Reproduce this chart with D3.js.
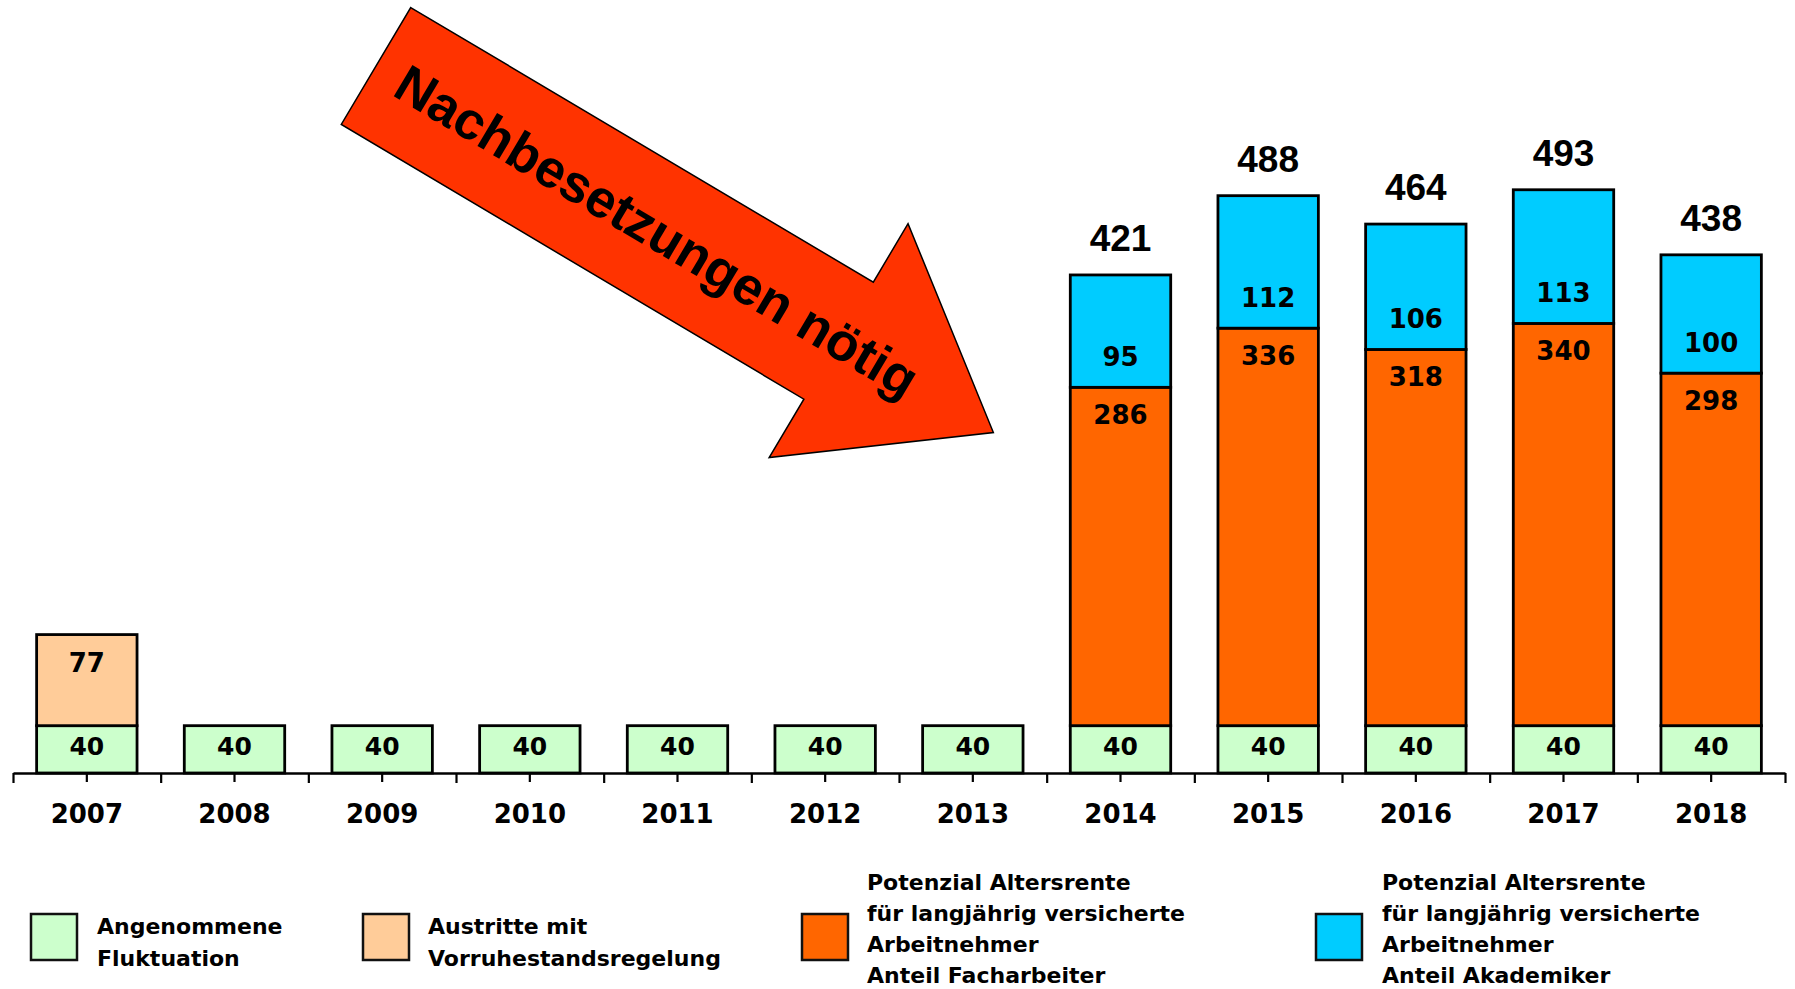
<!DOCTYPE html>
<html>
<head>
<meta charset="utf-8">
<script src="https://cdn.jsdelivr.net/npm/d3@7"></script>
<style>
  html, body { margin: 0; padding: 0; background: #fff; }
  svg { display: block; }
</style>
</head>
<body>
<div id="chart"></div>
<script>
// Nachbesetzungsbedarf 2007-2018, stacked columns
const years = ['2007','2008','2009','2010','2011','2012','2013','2014','2015','2016','2017','2018'];
const fluktuation  = [40, 40, 40, 40, 40, 40, 40, 40, 40, 40, 40, 40];
const vorruhestand = [77, 0, 0, 0, 0, 0, 0, 0, 0, 0, 0, 0];
const facharbeiter = [0, 0, 0, 0, 0, 0, 0, 286, 336, 318, 340, 298];
const akademiker   = [0, 0, 0, 0, 0, 0, 0, 95, 112, 106, 113, 100];

const seriesKeys   = ['fluktuation', 'vorruhestand', 'facharbeiter', 'akademiker'];
const seriesColors = ['#CCFFCC', '#FFCC99', '#FF6600', '#00CCFF'];
const legendLabels = [
  ['Angenommene', 'Fluktuation'],
  ['Austritte mit', 'Vorruhestandsregelung'],
  ['Potenzial Altersrente', 'für langjährig versicherte', 'Arbeitnehmer', 'Anteil Facharbeiter'],
  ['Potenzial Altersrente', 'für langjährig versicherte', 'Arbeitnehmer', 'Anteil Akademiker']
];
const arrowText = 'Nachbesetzungen nötig';

const W = 1795, H = 989;
const AXIS_Y = 773;
const SANS = '"Liberation Sans", Arial, sans-serif';
const WIDE = '"DejaVu Sans", Verdana, sans-serif';

const rows = years.map((yr, i) => ({
  year: yr,
  fluktuation: fluktuation[i],
  vorruhestand: vorruhestand[i],
  facharbeiter: facharbeiter[i],
  akademiker: akademiker[i]
}));

const svg = d3.select('#chart').append('svg')
  .attr('width', W).attr('height', H)
  .attr('viewBox', [0, 0, W, H]);
svg.append('rect').attr('width', W).attr('height', H).attr('fill', '#fff');

const x = d3.scaleBand().domain(years).range([13, 1785])
  .paddingInner(0.32).paddingOuter(0.16);
const y = d3.scaleLinear().domain([0, 653.4]).range([AXIS_Y, 0]);
const color = d3.scaleOrdinal().domain(seriesKeys).range(seriesColors);

const stacked = d3.stack().keys(seriesKeys)(rows);

// bars
const gBars = svg.append('g');
stacked.forEach(layer => {
  gBars.append('g').selectAll('rect')
    .data(layer.filter(d => d[1] > d[0]))
    .join('rect')
    .attr('x', d => x(d.data.year))
    .attr('width', x.bandwidth())
    .attr('y', d => y(d[1]))
    .attr('height', d => y(d[0]) - y(d[1]))
    .attr('fill', color(layer.key))
    .attr('stroke', '#000')
    .attr('stroke-width', 2.8);
});

// segment labels
function labelY(key, d){
  if(key === 'fluktuation') return y(d[0]) - 18;
  if(key === 'akademiker') return y(d[0]) - 21;
  return y(d[1]) + 37;
}
stacked.forEach(layer => {
  svg.append('g').selectAll('text')
    .data(layer.filter(d => d[1] > d[0]))
    .join('text')
    .attr('x', d => x(d.data.year) + x.bandwidth()/2)
    .attr('y', d => labelY(layer.key, d))
    .attr('text-anchor', 'middle')
    .style('font-family', WIDE)
    .style('font-weight', 'bold')
    .style('font-size', d => (layer.key === 'fluktuation' ? 25 : 26) + 'px')
    .text(d => d[1] - d[0]);
});

// totals above the tall columns
const lastLayer = stacked[stacked.length - 1];
svg.append('g').selectAll('text')
  .data(lastLayer.filter(d => d.data.facharbeiter > 0))
  .join('text')
  .attr('x', d => x(d.data.year) + x.bandwidth()/2)
  .attr('y', d => y(d[1]) - 24)
  .attr('text-anchor', 'middle')
  .style('font-family', SANS)
  .style('font-weight', 'bold')
  .style('font-size', '37px')
  .text(d => d[1]);

// x axis: centre ticks + category boundary ticks
const xAxis = svg.append('g')
  .attr('transform', 'translate(0,' + AXIS_Y + ')')
  .call(d3.axisBottom(x).tickSize(9).tickSizeOuter(0));
xAxis.select('.domain').attr('stroke', '#000').attr('stroke-width', 2.5);
xAxis.selectAll('.tick line').attr('stroke', '#000').attr('stroke-width', 2.2);
xAxis.selectAll('.tick text')
  .attr('y', 50).attr('dy', 0)
  .attr('fill', '#000')
  .style('font-family', WIDE)
  .style('font-weight', 'bold')
  .style('font-size', '26px');

const xEdge = d3.scaleLinear().domain([0, years.length]).range(x.range());
const edgeAxis = svg.append('g')
  .attr('transform', 'translate(0,' + AXIS_Y + ')')
  .call(d3.axisBottom(xEdge).tickValues(d3.range(years.length + 1)).tickSize(10).tickFormat(''));
edgeAxis.select('.domain').remove();
edgeAxis.selectAll('.tick line').attr('stroke', '#000').attr('stroke-width', 2.2);

// arrow annotation: drawn in its own rotated frame (tail centre at origin)
const arrow = { x0: 376, y0: 66, angle: 30.7, shaft: 538, half: 68, headHalf: 136, tip: 718 };
const gArrow = svg.append('g')
  .attr('transform', 'translate(' + arrow.x0 + ',' + arrow.y0 + ') rotate(' + arrow.angle + ')');
const pts = [
  [0, -arrow.half], [arrow.shaft, -arrow.half], [arrow.shaft, -arrow.headHalf],
  [arrow.tip, 0],
  [arrow.shaft, arrow.headHalf], [arrow.shaft, arrow.half], [0, arrow.half]
];
gArrow.append('path')
  .attr('d', d3.line()(pts) + 'Z')
  .attr('fill', '#FF3300')
  .attr('stroke', '#000')
  .attr('stroke-width', 1.5);
gArrow.append('text')
  .attr('x', 326).attr('y', 17)
  .attr('text-anchor', 'middle')
  .style('font-family', SANS)
  .style('font-weight', 'bold')
  .style('font-size', '53px')
  .text(arrowText);

// legend
const legendBoxX  = [31, 363, 802, 1316];
const legendTextX = [97, 428, 867, 1382];
const legend = svg.append('g');
seriesKeys.forEach((key, i) => {
  legend.append('rect')
    .attr('x', legendBoxX[i]).attr('y', 914)
    .attr('width', 46).attr('height', 46)
    .attr('fill', color(key))
    .attr('stroke', '#111')
    .attr('stroke-width', 2.5);
  const lines = legendLabels[i];
  const first = lines.length === 2 ? 934 : 890;
  const step = lines.length === 2 ? 32 : 31;
  const t = legend.append('text')
    .style('font-family', WIDE)
    .style('font-weight', 'bold')
    .style('font-size', '22px');
  lines.forEach((ln, j) => {
    t.append('tspan').attr('x', legendTextX[i]).attr('y', first + j*step).text(ln);
  });
});
</script>
</body>
</html>
